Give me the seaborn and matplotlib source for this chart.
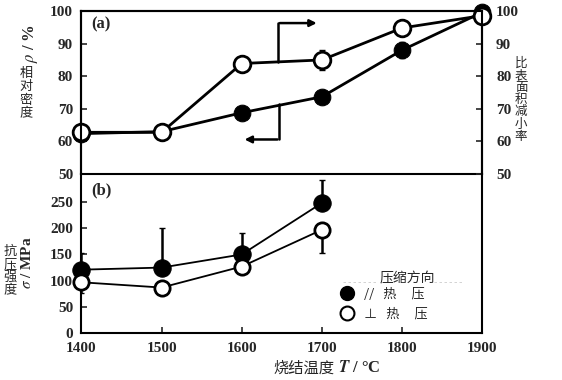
import numpy as np
import pandas as pd
import matplotlib.pyplot as plt
import seaborn as sns
from matplotlib.lines import Line2D

sns.set_theme(style="white")
plt.rcParams["font.family"] = ["Liberation Serif", "Noto Sans CJK SC", "DejaVu Sans"]
plt.rcParams["mathtext.fontset"] = "stix"

# sintering temperature (C)
temps_a = [1400, 1500, 1600, 1700, 1800, 1900]
# (a) relative density (filled) and specific surface area reduction (open)
density = [62.4, 63.0, 68.8, 73.7, 88.0, 99.6]
surface_red = [62.8, 62.8, 83.9, 85.0, 94.8, 98.6]
surface_err = [0, 0, 0, 3.0, 0, 0]
density_err = [0, 0, 0, 0, 2.5, 0]

# (b) compressive strength
temps_b = [1400, 1500, 1600, 1700]
strength_par = [121, 125, 150, 248]
strength_par_up = [31, 75, 40, 44]
strength_perp = [97, 87, 127, 197]
strength_perp_down = [20, 0, 0, 45]

df_a = pd.DataFrame({"T": temps_a, "density": density, "surface": surface_red})
df_b = pd.DataFrame({"T": temps_b, "par": strength_par, "perp": strength_perp})

W, H = 562, 380
fig = plt.figure(figsize=(W / 100, H / 100), dpi=100)
ax1 = fig.add_axes([0.145, 0.542, 0.713, 0.429])
ax2 = fig.add_axes([0.145, 0.123, 0.713, 0.419])

bold = dict(fontweight="bold", fontsize=11, family="Liberation Serif")
cjk = ["Noto Sans CJK SC", "DejaVu Sans"]


def vertical_label(text, x_px, y_top_px, step_px, size):
    # upright CJK characters stacked top to bottom (pixel coords from top-left)
    for i, ch in enumerate(text):
        y = y_top_px + step_px * (i + 0.5)
        fig.text(x_px / W, 1 - y / H, ch, ha="center", va="center",
                 fontsize=size, family=cjk)


# ---- panel (a)
ax1.errorbar(temps_a, surface_red, yerr=surface_err, fmt="none", ecolor="black",
             elinewidth=1.5, capsize=2, zorder=2)
ax1.errorbar(temps_a, density, yerr=density_err, fmt="none", ecolor="black",
             elinewidth=1.5, capsize=2, zorder=2)
sns.lineplot(data=df_a, x="T", y="density", ax=ax1, color="black", lw=2,
             marker="o", markersize=12, markerfacecolor="black",
             markeredgecolor="black", clip_on=False, zorder=3)
sns.lineplot(data=df_a, x="T", y="surface", ax=ax1, color="black", lw=2,
             marker="o", markersize=12, markerfacecolor="white",
             markeredgecolor="black", markeredgewidth=2, clip_on=False, zorder=4)

ax1.set_xlim(1400, 1900)
ax1.set_ylim(50, 100)
ax1.set_xticks([])
ax1.set_yticks(np.arange(50, 101, 10))
ax1.tick_params(axis="y", direction="in", length=4, width=1.2, left=True, pad=6)
for lbl in ax1.get_yticklabels():
    lbl.set(**bold)
ax1.set_xlabel("")
ax1.set_ylabel("")

axr = ax1.twinx()
axr.set_ylim(50, 100)
axr.set_yticks(np.arange(50, 101, 10))
axr.tick_params(axis="y", direction="in", length=4, width=1.2, right=True, pad=10)
for lbl in axr.get_yticklabels():
    lbl.set(**bold)
for a in (ax1, axr):
    for s in a.spines.values():
        s.set_color("black")
        s.set_linewidth(1.5)
axr.spines["bottom"].set_visible(False)
ax1.spines["bottom"].set_visible(False)

# bracket arrows
ax1.plot([1645, 1645], [84.3, 96.3], color="black", lw=1.8)
ax1.annotate("", xy=(1697, 96.3), xytext=(1644, 96.3),
             arrowprops=dict(arrowstyle="-|>", color="black", lw=1.8, mutation_scale=10))
ax1.plot([1647, 1647], [71.5, 60.6], color="black", lw=1.8)
ax1.annotate("", xy=(1600, 60.6), xytext=(1648, 60.6),
             arrowprops=dict(arrowstyle="-|>", color="black", lw=1.8, mutation_scale=10))

ax1.text(0.025, 0.915, "(a)", transform=ax1.transAxes, fontsize=12, fontweight="bold",
         family="Liberation Serif", va="center")

# ---- panel (b)
ax2.errorbar(temps_b, strength_par, yerr=[np.zeros(4), strength_par_up], fmt="none",
             ecolor="black", elinewidth=1.8, capsize=2, zorder=2)
ax2.errorbar(temps_b, strength_perp, yerr=[strength_perp_down, np.zeros(4)], fmt="none",
             ecolor="black", elinewidth=1.8, capsize=2, zorder=2)
sns.lineplot(data=df_b, x="T", y="par", ax=ax2, color="black", lw=1.3,
             marker="o", markersize=12.5, markerfacecolor="black",
             markeredgecolor="black", clip_on=False, zorder=3)
sns.lineplot(data=df_b, x="T", y="perp", ax=ax2, color="black", lw=1.3,
             marker="o", markersize=11, markerfacecolor="white",
             markeredgecolor="black", markeredgewidth=2, clip_on=False, zorder=4)

ax2.set_xlim(1400, 1900)
ax2.set_ylim(0, 303)
ax2.set_xticks(np.arange(1400, 1901, 100))
ax2.set_yticks(np.arange(0, 251, 50))
ax2.tick_params(axis="both", direction="in", length=4, width=1.2, bottom=True, left=True, pad=6)
for lbl in ax2.get_xticklabels() + ax2.get_yticklabels():
    lbl.set(**bold)
for s in ax2.spines.values():
    s.set_color("black")
    s.set_linewidth(1.5)
ax2.set_xlabel("")
ax2.set_ylabel("")
ax2.text(0.025, 0.9, "(b)", transform=ax2.transAxes, fontsize=12, fontweight="bold",
         family="Liberation Serif", va="center")

handles = [
    Line2D([], [], ls="none", marker="o", markersize=10, mfc="black", mec="black"),
    Line2D([], [], ls="none", marker="o", markersize=10, mfc="white", mec="black", mew=1.5),
]
leg = ax2.legend(handles, ["//   热     压", "⊥   热     压"],
                 frameon=False, loc="center", bbox_to_anchor=(0.747, 0.184),
                 handletextpad=0.3, labelspacing=0.5, borderaxespad=0,
                 prop={"family": cjk, "size": 9.5})
# legend heading with faint dashed rules either side
ax2.text(0.813, 0.347, "压缩方向", transform=ax2.transAxes, ha="center", va="center",
         fontsize=10, family=cjk)
ax2.plot([0.653, 0.74], [0.322, 0.322], transform=ax2.transAxes, color="#cccccc",
         lw=0.6, ls=(0, (3, 3)))
ax2.plot([0.88, 0.953], [0.322, 0.322], transform=ax2.transAxes, color="#cccccc",
         lw=0.6, ls=(0, (3, 3)))

# ---- axis labels
fig.text(30 / W, 1 - 43 / H, "$\\rho$ / %", rotation=90, ha="center", va="center",
         fontsize=12, fontweight="bold", family="Liberation Serif")
vertical_label("相对密度", 26, 67, 13.3, 9.5)
vertical_label("比表面积减小率", 521, 57, 12.2, 9)
vertical_label("抗压强度", 10, 245, 13, 9.5)
fig.text(27 / W, 1 - 263 / H, "$\\sigma$ / MPa", rotation=90, ha="center", va="center",
         fontsize=11, fontweight="bold", family="Liberation Serif")
fig.text(273 / W, 1 - 368 / H, "烧结温度", ha="left", va="center", fontsize=11, family=cjk)
fig.text(338 / W, 1 - 368 / H, "$\\boldsymbol{T}$ / °C", ha="left", va="center",
         fontsize=12, fontweight="bold", family="Liberation Serif")

fig.savefig("out.png", dpi=100)
